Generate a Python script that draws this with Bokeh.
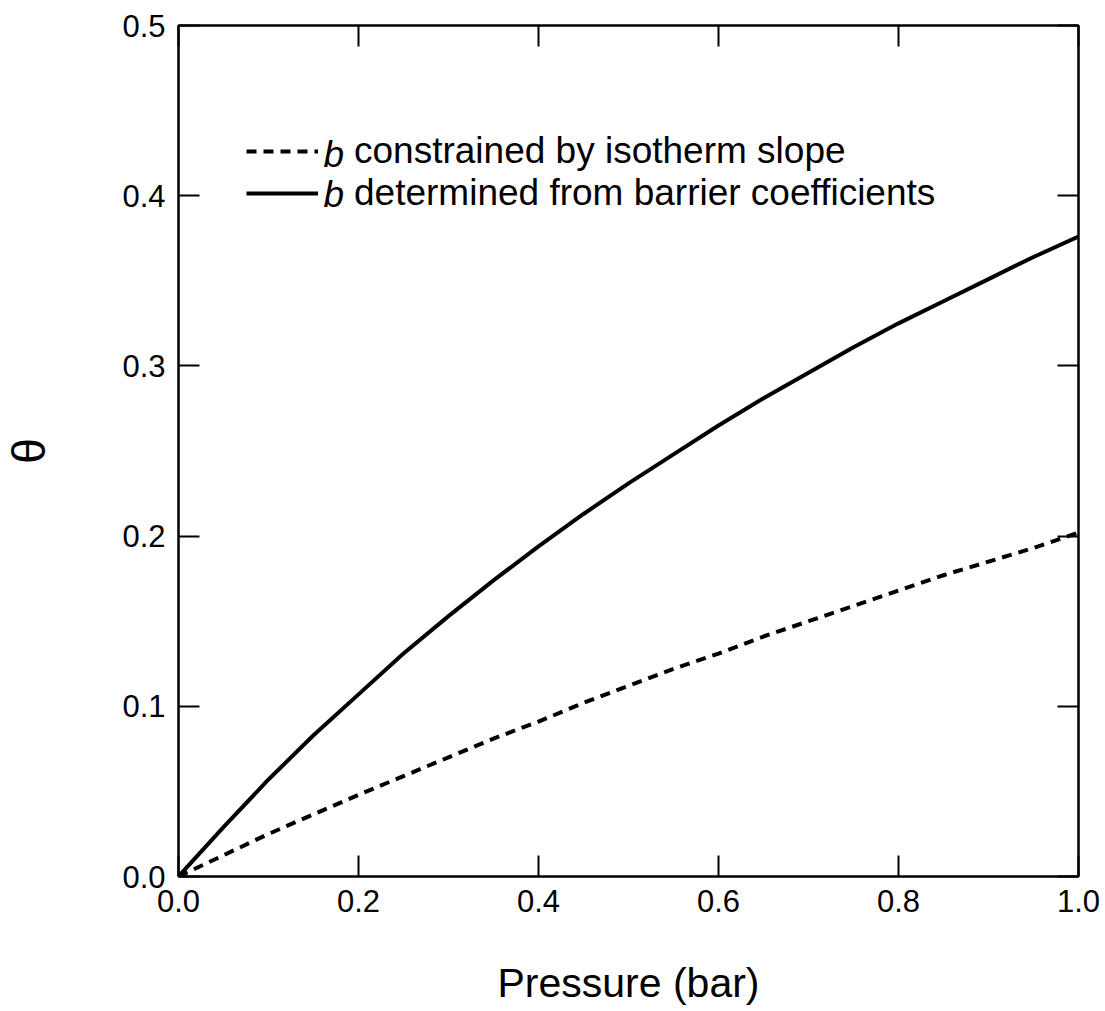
from bokeh.plotting import figure
from bokeh.models import (Range1d, LinearAxis, FixedTicker, PrintfTickFormatter,
                          Legend, LegendItem, Label, ColumnDataSource)
from bokeh.embed import file_html
from bokeh.resources import INLINE

# ---- data ----
pressure = [0.00, 0.05, 0.10, 0.15, 0.20, 0.25, 0.30, 0.35, 0.40, 0.45, 0.50,
            0.55, 0.60, 0.65, 0.70, 0.75, 0.80, 0.85, 0.90, 0.95, 1.00]
theta_barrier = [0.000, 0.029, 0.057, 0.083, 0.107, 0.131, 0.153, 0.174, 0.194,
                 0.213, 0.231, 0.248, 0.265, 0.281, 0.296, 0.311, 0.325, 0.338,
                 0.351, 0.364, 0.376]
theta_slope = [0.000, 0.0125, 0.025, 0.0365, 0.048, 0.059, 0.070, 0.081, 0.091,
               0.102, 0.112, 0.122, 0.131, 0.141, 0.150, 0.159, 0.168, 0.177,
               0.185, 0.193, 0.202]
x_ticks = [0.0, 0.2, 0.4, 0.6, 0.8, 1.0]
y_ticks = [0.0, 0.1, 0.2, 0.3, 0.4, 0.5]
label_slope = "constrained by isotherm slope"
label_barrier = "determined from barrier coefficients"

FONT = "Liberation Sans"

p = figure(width=1105, height=1011, output_backend="svg", toolbar_location=None,
           x_range=Range1d(0, 1), y_range=Range1d(0, 0.5),
           x_axis_type=None, y_axis_type=None,
           min_border_left=178, min_border_right=27, min_border_top=25,
           min_border_bottom=135)
p.grid.visible = False
p.outline_line_color = "black"
p.outline_line_width = 2
p.background_fill_color = "white"
p.border_fill_color = "white"


def style_axis(ax, ticks, show_labels):
    ax.ticker = FixedTicker(ticks=ticks)
    ax.formatter = PrintfTickFormatter(format="%.1f")
    ax.axis_line_color = "black"
    ax.axis_line_width = 2
    ax.major_tick_line_color = "black"
    ax.major_tick_line_width = 2
    ax.major_tick_in = 21
    ax.major_tick_out = 0
    ax.minor_tick_line_color = None
    ax.major_label_text_font = FONT
    ax.major_label_text_color = "black"
    ax.axis_label_text_color = "black"
    if show_labels:
        ax.major_label_text_font_size = "31px"
    else:
        # mirror axis: ticks only, labels not drawn
        ax.major_label_text_font_size = "1px"
        ax.major_label_text_color = None
        ax.major_label_standoff = 0


bottom = LinearAxis(axis_label="Pressure (bar)")
style_axis(bottom, x_ticks, True)
bottom.major_label_standoff = 13
bottom.axis_label_text_font = FONT
bottom.axis_label_text_font_size = "41px"
bottom.axis_label_text_font_style = "normal"
bottom.axis_label_standoff = 45
p.add_layout(bottom, "below")

left = LinearAxis(axis_label="θ")
style_axis(left, y_ticks, True)
left.major_label_standoff = 13
left.axis_label_text_font = FONT
left.axis_label_text_font_size = "46px"
left.axis_label_text_font_style = "normal"
left.axis_label_standoff = 64
p.add_layout(left, "left")

top = LinearAxis()
style_axis(top, x_ticks, False)
p.add_layout(top, "above")

right = LinearAxis()
style_axis(right, y_ticks, False)
p.add_layout(right, "right")

src = ColumnDataSource(dict(p=pressure, tb=theta_barrier, ts=theta_slope))
r_slope = p.line("p", "ts", source=src, line_color="black", line_width=4,
                 line_dash="10 7")
r_barrier = p.line("p", "tb", source=src, line_color="black", line_width=4)

LEG_FS = 37
b_width = 31  # approx width of italic "b " at this size
ROW = 40
LEG_X, LEG_TOP = 68, 742  # screen units from frame's bottom-left
legend = Legend(items=[LegendItem(label=label_slope, renderers=[r_slope]),
                       LegendItem(label=label_barrier, renderers=[r_barrier])],
                location=(LEG_X, LEG_TOP - 2 * ROW), padding=0, margin=0, spacing=0,
                glyph_width=72, glyph_height=ROW, label_height=ROW,
                label_standoff=5 + b_width,
                label_text_font=FONT, label_text_font_size=f"{LEG_FS}px",
                label_text_color="black",
                border_line_color=None, background_fill_alpha=0)
p.add_layout(legend, "center")

for k in range(2):
    p.add_layout(Label(x=LEG_X + 72 + 5, y=LEG_TOP - ROW * (k + 0.5),
                       x_units="screen", y_units="screen",
                       text="b", text_font=FONT, text_font_style="italic",
                       text_font_size=f"{LEG_FS}px", text_baseline="middle",
                       text_color="black"))

open("out.html", "w").write(file_html(p, INLINE))
